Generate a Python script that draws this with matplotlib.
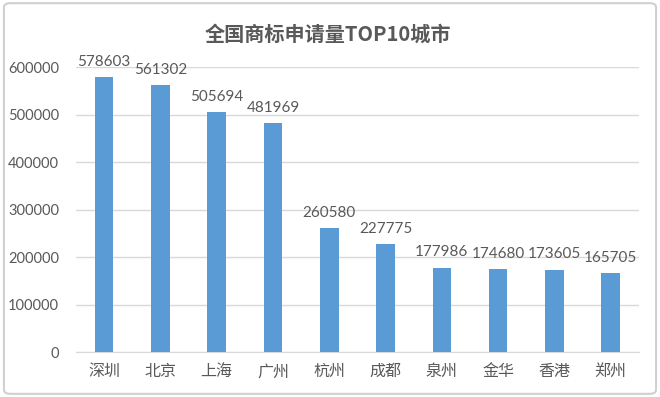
import matplotlib.pyplot as plt
from matplotlib.patches import FancyBboxPatch

cities = ['深圳', '北京', '上海', '广州', '杭州', '成都', '泉州', '金华', '香港', '郑州']
counts = [578603, 561302, 505694, 481969, 260580, 227775, 177986, 174680, 173605, 165705]
yticks = [0, 100000, 200000, 300000, 400000, 500000, 600000]

plt.rcParams['font.family'] = ['Lato', 'Noto Sans CJK SC', 'DejaVu Sans']
text_color = '#595959'

fig = plt.figure(figsize=(6.6, 3.97), dpi=100)
ax = fig.add_axes([0.115, 0.113, 0.853, 0.718])

x = range(len(cities))
bars = ax.bar(x, counts, width=0.33, color='#5B9BD5', zorder=3)

for xi, v in zip(x, counts):
    ax.annotate(str(v), (xi, v), xytext=(0, 6), textcoords='offset points',
                ha='center', va='bottom', fontsize=11, color=text_color,
                annotation_clip=False)

ax.set_xlim(-0.5, len(cities) - 0.5)
ax.set_ylim(0, 600000)
ax.set_yticks(yticks)
ax.set_yticklabels([str(t) for t in yticks], fontsize=10.5, color=text_color)
ax.set_xticks(list(x))
ax.set_xticklabels(cities, fontsize=11.5, color=text_color,
                   family=['Noto Sans CJK SC'])
ax.tick_params(axis='x', length=0, pad=8)
ax.tick_params(axis='y', length=0, pad=12)
ax.grid(axis='y', color='#D9D9D9', linewidth=1, zorder=0)
for s in ['top', 'right', 'left']:
    ax.spines[s].set_visible(False)
ax.spines['bottom'].set_color('#D9D9D9')

fig.text(0.497, 0.915, '全国商标申请量TOP10城市', ha='center', va='center',
         fontsize=14.5, color=text_color, fontweight='bold',
         family=['Noto Sans CJK SC'])

border = FancyBboxPatch((0.006, 0.008), 0.988, 0.984, boxstyle='round,pad=0,rounding_size=0.01',
                        transform=fig.transFigure, fill=False, edgecolor='#D0D0D0', linewidth=1.5)
fig.patches.append(border)

fig.savefig('out.png', dpi=100)
plt.close(fig)
